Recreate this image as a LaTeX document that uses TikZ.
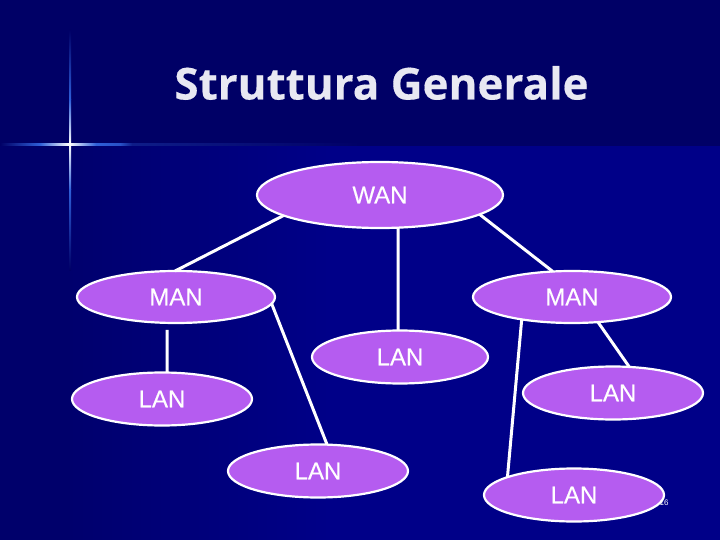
\documentclass[tikz,border=0pt]{standalone}
\usepackage{fontspec}
\setmainfont{Liberation Sans}
\newfontfamily\netfont[FakeBold=0.25]{Liberation Sans}
\newfontfamily\titlefont[FakeBold=0.3]{Open Sans}
\usetikzlibrary{shapes.geometric}
\definecolor{bgtop}{HTML}{000066}
\definecolor{bgmain}{HTML}{000088}
\definecolor{purp}{HTML}{B55CF0}
\definecolor{titlec}{HTML}{E8E8F2}
\definecolor{starblue}{HTML}{2F5FD8}
\colorlet{stardim}{bgtop!70!starblue}
\colorlet{starmid}{starblue!85!bgtop}
\tikzset{
  net/.style={ellipse,draw=white,line width=2.2pt,fill=purp,text=white,inner sep=0pt,outer sep=0pt,font=\netfont\fontsize{24}{24}\selectfont},
  link/.style={draw=white,line width=3pt},
}
\begin{document}
\begin{tikzpicture}[x=1pt,y=-1pt]
\useasboundingbox (0,0) rectangle (720,540);
\fill[bgmain] (0,0) rectangle (720,540);
\fill[bgtop] (0,0) rectangle (720,146);
\shade[left color=bgtop,right color=bgmain] (0,146) rectangle (330,540);
\fill[bgtop!85!bgmain] (0,146) rectangle (70,540);
% star
\shade[left color=bgtop,right color=starblue] (0,144) rectangle (40,146);
\shade[left color=starblue,right color=white] (40,144) rectangle (69,146);
\shade[left color=white,right color=starblue] (69,144) rectangle (96,146);
\shade[left color=starblue,right color=starmid] (96,144) rectangle (120,146);
\shade[left color=starmid,right color=stardim] (120,144) rectangle (132,146);
\shade[left color=stardim,right color=bgtop] (132,144) rectangle (360,146);
\shade[top color=bgtop,bottom color=starblue] (69,30) rectangle (71,100);
\shade[top color=starblue,bottom color=white] (69,100) rectangle (71,144);
\shade[top color=white,bottom color=starblue] (69,144) rectangle (71,190);
\shade[top color=starblue,bottom color=bgtop] (69,190) rectangle (71,270);
\node[text=titlec,font=\titlefont\bfseries\fontsize{44}{44}\selectfont,inner sep=0pt] (title) at (381.5,83) {Struttura Generale};
\node[net,minimum width=246pt,minimum height=66pt] (wan) at (380,195) {WAN};
\node[net,minimum width=198pt,minimum height=52pt] (man1) at (176,297) {MAN};
\node[net,minimum width=198pt,minimum height=52pt] (man2) at (572,297) {MAN};
\node[net,minimum width=176pt,minimum height=53pt] (lanc) at (400,357) {LAN};
\node[net,minimum width=180pt,minimum height=53pt] (lanr) at (613,393) {LAN};
\node[net,minimum width=180pt,minimum height=53pt] (lanl) at (162,399) {LAN};
\node[net,minimum width=180pt,minimum height=53pt] (lanm) at (318,471) {LAN};
\node[net,minimum width=180pt,minimum height=53pt] (lanb) at (574,495) {LAN};
\draw[link] (wan.192) -- (man1.92);
\draw[link] (wan.-61) -- (lanc.94);
\draw[link] (wan.-11.4) -- (man2.127);
\draw[link,shorten <=7pt] (man1.-109) -- (lanl.79);
\draw[link] (man1.-4.9) -- (lanm.71);
\draw[link] (man2.-156) -- (lanb.165);
\draw[link] (man2.-44) -- (lanr.58);
\node[text=white,font=\fontsize{8}{8}\selectfont,inner sep=0pt] (page) at (664,503) {16};
\end{tikzpicture}
\end{document}
